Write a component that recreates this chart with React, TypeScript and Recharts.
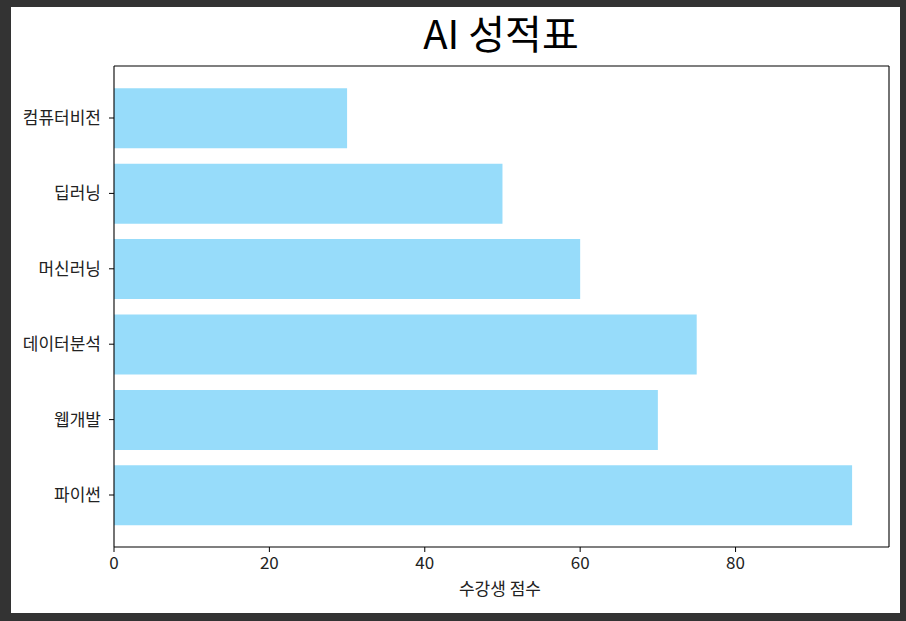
import React from "react";
import { BarChart, Bar, XAxis, YAxis } from "recharts";

const categories = ["컴퓨터비전", "딥러닝", "머신러닝", "데이터분석", "웹개발", "파이썬"];
const scores = [30, 50, 60, 75, 70, 95];
const xTicks = [0, 20, 40, 60, 80];
const title = "AI 성적표";
const xLabel = "수강생 점수";

const data = categories.map((name, i) => ({ name, score: scores[i] }));

const FONT = "'Noto Sans CJK KR', 'Noto Sans', sans-serif";

export default function App() {
  return (
    <div
      style={{
        position: "fixed",
        left: 0,
        top: 0,
        width: 906,
        height: 621,
        background: "#333333",
        fontFamily: FONT,
      }}
    >
      <div
        style={{
          position: "absolute",
          left: 11,
          top: 7,
          width: 889,
          height: 606,
          background: "#ffffff",
        }}
      />
      <div style={{ position: "absolute", left: 0, top: 0 }}>
        <BarChart
          width={906}
          height={621}
          data={data}
          layout="vertical"
          margin={{ top: 65, right: 16, bottom: 44, left: 14 }}
        >
          <XAxis
            type="number"
            dataKey="score"
            domain={[0, 99.75]}
            ticks={xTicks}
            allowDataOverflow
            height={30}
            tickSize={5}
            tickMargin={5}
            axisLine={{ stroke: "#000", strokeWidth: 1.1 }}
            tickLine={{ stroke: "#000" }}
            tick={{ fill: "#222", fontSize: 17, fontFamily: FONT }}
          />
          <XAxis
            xAxisId="top"
            orientation="top"
            type="number"
            dataKey="score"
            domain={[0, 99.75]}
            allowDataOverflow
            height={1}
            tick={false}
            tickLine={false}
            axisLine={{ stroke: "#000", strokeWidth: 1.1 }}
          />
          <YAxis
            type="category"
            dataKey="name"
            width={100}
            padding={{ top: 14.3, bottom: 14.3 }}
            tickSize={5}
            tickMargin={8}
            axisLine={{ stroke: "#000", strokeWidth: 1.1 }}
            tickLine={{ stroke: "#000" }}
            tick={{ fill: "#222", fontSize: 17, fontFamily: FONT }}
          />
          <YAxis
            yAxisId="right"
            orientation="right"
            type="category"
            dataKey="name"
            width={1}
            tick={false}
            tickLine={false}
            axisLine={{ stroke: "#000", strokeWidth: 1.1 }}
          />
          <Bar dataKey="score" fill="#97dcfa" barSize={60} isAnimationActive={false} />
        </BarChart>
      </div>
      <svg
        width={906}
        height={621}
        style={{ position: "absolute", left: 0, top: 0, pointerEvents: "none" }}
      >
        <text x={501} y={49} textAnchor="middle" fontSize={40} fill="#000" fontFamily={FONT}>
          {title}
        </text>
        <text x={500} y={595} textAnchor="middle" fontSize={17} fill="#222" fontFamily={FONT}>
          {xLabel}
        </text>
      </svg>
    </div>
  );
}
